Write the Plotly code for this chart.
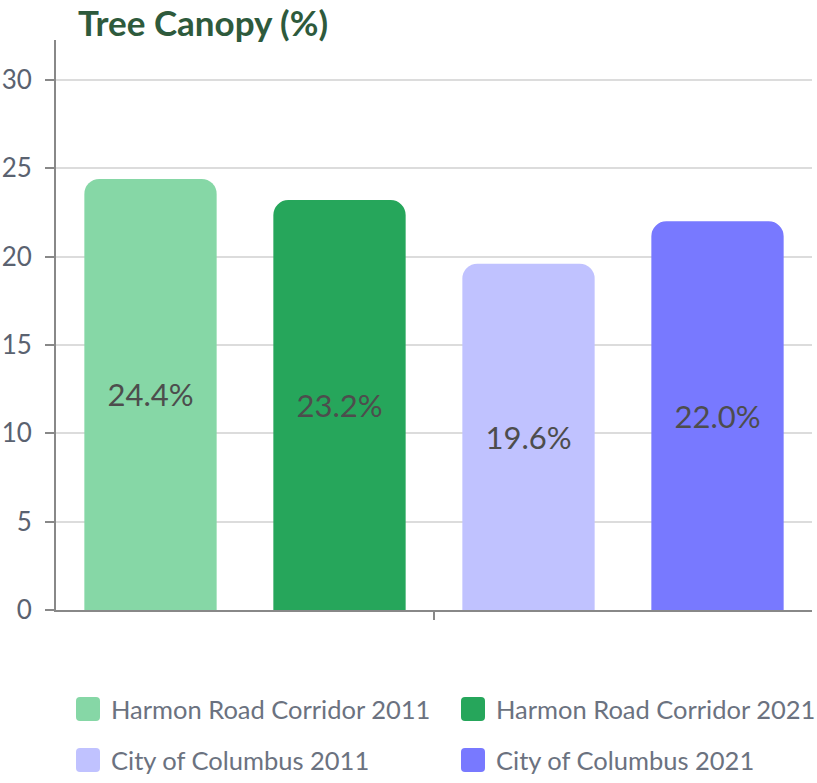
import plotly.graph_objects as go

series_names = ["Harmon Road Corridor 2011", "Harmon Road Corridor 2021",
                "City of Columbus 2011", "City of Columbus 2021"]
series_values = [24.4, 23.2, 19.6, 22.0]
series_colors = ["#86D7A6", "#26A65B", "#C0C2FF", "#7879FF"]
category = ["Tree Canopy"]
y_ticks = [0, 5, 10, 15, 20, 25, 30]

FONT = "Lato"
W, H = 817, 783
left, right, top, bottom = 56, 5, 40, 173
pw = W - left - right
ph = H - top - bottom

fig = go.Figure()
for name, val, col in zip(series_names, series_values, series_colors):
    fig.add_trace(go.Bar(
        x=category, y=[val], name=name,
        marker=dict(color=col, cornerradius=15, line=dict(width=0)),
        texttemplate="%{y:.1f}%", textposition="inside",
        insidetextanchor="middle",
        textfont=dict(family=FONT, size=31, color="#4d4d4d"),
        showlegend=False, hoverinfo="skip",
    ))

# custom legend (2 columns), positions in pixels
col_marker_x = [88, 473]
col_text_x = [109, 494]
row_y = [709, 760]

def px2x(x):
    return (x - left) / pw
def px2y(y):
    return (H - bottom - y) / ph

shapes = []
annotations = []
for i, (name, col) in enumerate(zip(series_names, series_colors)):
    c, r = i % 2, i // 2
    s, rr = 12, 4
    path = (f"M{-s+rr},{-s} L{s-rr},{-s} Q{s},{-s} {s},{-s+rr} L{s},{s-rr} Q{s},{s} {s-rr},{s} "
            f"L{-s+rr},{s} Q{-s},{s} {-s},{s-rr} L{-s},{-s+rr} Q{-s},{-s} {-s+rr},{-s} Z")
    shapes.append(dict(type="path", xref="paper", yref="paper",
                       xsizemode="pixel", ysizemode="pixel",
                       xanchor=px2x(col_marker_x[c]), yanchor=px2y(row_y[r]),
                       path=path, fillcolor=col, line=dict(width=0)))
    annotations.append(dict(xref="paper", yref="paper", x=px2x(col_text_x[c]),
                            y=px2y(row_y[r]), xanchor="left", yanchor="middle",
                            text=name, showarrow=False,
                            font=dict(family=FONT, size=25.5, color="#6b7280")))

fig.update_layout(
    width=W, height=H,
    margin=dict(l=left, r=right, t=top, b=bottom, autoexpand=False),
    paper_bgcolor="white", plot_bgcolor="white",
    barmode="group", bargap=0, bargroupgap=0.3,
    showlegend=False,
    title=dict(text="<b>Tree Canopy (%)</b>", xref="container", yref="container",
               x=78 / W, xanchor="left", y=1 - 11 / H, yanchor="top",
               font=dict(family=FONT, size=35, color="#2E5A3C")),
    font=dict(family=FONT),
    shapes=shapes, annotations=annotations,
    xaxis=dict(showticklabels=False, ticks="outside", ticklen=8, tickcolor="#888",
               tickwidth=1.5, showline=True, linecolor="#888", linewidth=2,
               showgrid=False, automargin=False),
    yaxis=dict(range=[0, 32.26], tickvals=y_ticks, ticks="outside", ticklen=9,
               tickcolor="#888", tickwidth=1.5, showline=True, linecolor="#888",
               linewidth=2, showgrid=True, gridcolor="#dcdcdc", gridwidth=1.5,
               zeroline=False, ticklabelstandoff=8, automargin=False,
               tickfont=dict(family=FONT, size=26, color="#5a6270")),
)

fig.write_html("out.html", config={"displayModeBar": False},
               post_script="document.body.style.margin='0';document.body.style.overflow='hidden';")
